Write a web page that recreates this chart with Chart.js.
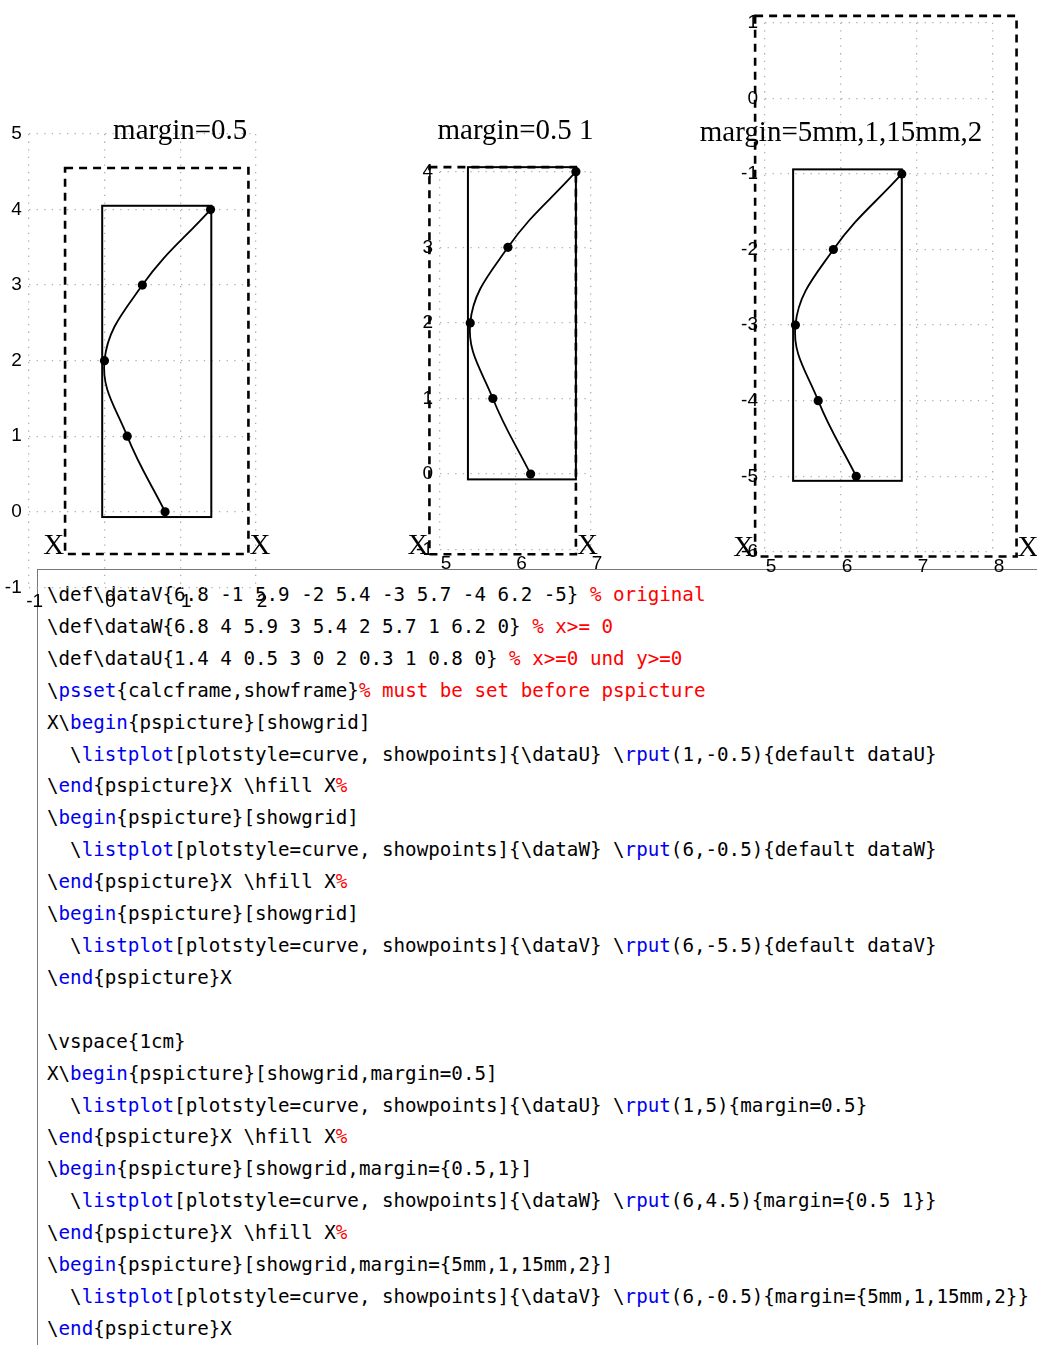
<!DOCTYPE html>
<html>
<head>
<meta charset="utf-8">
<script src="https://cdn.jsdelivr.net/npm/chart.js@4"></script>
<style>
  html, body { margin: 0; padding: 0; background: #fff; }
  #page { position: relative; width: 1037px; height: 1345px; overflow: hidden; }
  .plot { position: absolute; z-index: 2; }
  #listing {
    position: absolute; left: 37px; top: 569px; width: 1000px; height: 776px;
    border-left: 1.5px solid #777; border-top: 1.5px solid #777;
    z-index: 1;
  }
  #listing pre {
    margin: 0; position: absolute; left: 9px; top: 9px;
    font-family: 'DejaVu Sans Mono', monospace; font-size: 19.2px; line-height: 31.9px; color: #000;
  }
  .k { color: #0000ee; }
  .c { color: #ff0000; }
</style>
</head>
<body>
<div id="page">
  <div class="plot" style="left:0px;top:110px;"><canvas id="plotU" width="280" height="510"></canvas></div>
  <div class="plot" style="left:400px;top:110px;"><canvas id="plotW" width="220" height="470"></canvas></div>
  <div class="plot" style="left:680px;top:0px;"><canvas id="plotV" width="357" height="580"></canvas></div>
  <div id="listing"><pre>\def\dataV{6.8 -1 5.9 -2 5.4 -3 5.7 -4 6.2 -5} <span class="c">% original</span>
\def\dataW{6.8 4 5.9 3 5.4 2 5.7 1 6.2 0} <span class="c">% x&gt;= 0</span>
\def\dataU{1.4 4 0.5 3 0 2 0.3 1 0.8 0} <span class="c">% x&gt;=0 und y&gt;=0</span>
\<span class="k">psset</span>{calcframe,showframe}<span class="c">% must be set before pspicture</span>
X\<span class="k">begin</span>{pspicture}[showgrid]
  \<span class="k">listplot</span>[plotstyle=curve, showpoints]{\dataU} \<span class="k">rput</span>(1,-0.5){default dataU}
\<span class="k">end</span>{pspicture}X \hfill X<span class="c">%</span>
\<span class="k">begin</span>{pspicture}[showgrid]
  \<span class="k">listplot</span>[plotstyle=curve, showpoints]{\dataW} \<span class="k">rput</span>(6,-0.5){default dataW}
\<span class="k">end</span>{pspicture}X \hfill X<span class="c">%</span>
\<span class="k">begin</span>{pspicture}[showgrid]
  \<span class="k">listplot</span>[plotstyle=curve, showpoints]{\dataV} \<span class="k">rput</span>(6,-5.5){default dataV}
\<span class="k">end</span>{pspicture}X

\vspace{1cm}
X\<span class="k">begin</span>{pspicture}[showgrid,margin=0.5]
  \<span class="k">listplot</span>[plotstyle=curve, showpoints]{\dataU} \<span class="k">rput</span>(1,5){margin=0.5}
\<span class="k">end</span>{pspicture}X \hfill X<span class="c">%</span>
\<span class="k">begin</span>{pspicture}[showgrid,margin={0.5,1}]
  \<span class="k">listplot</span>[plotstyle=curve, showpoints]{\dataW} \<span class="k">rput</span>(6,4.5){margin={0.5 1}}
\<span class="k">end</span>{pspicture}X \hfill X<span class="c">%</span>
\<span class="k">begin</span>{pspicture}[showgrid,margin={5mm,1,15mm,2}]
  \<span class="k">listplot</span>[plotstyle=curve, showpoints]{\dataV} \<span class="k">rput</span>(6,-0.5){margin={5mm,1,15mm,2}}
\<span class="k">end</span>{pspicture}X</pre></div>
</div>

<script>
// listplot data (x, y pairs from \dataU, \dataW, \dataV)
const dataUx = [1.4, 0.5, 0, 0.3, 0.8];
const dataUy = [4, 3, 2, 1, 0];
const dataWx = [6.8, 5.9, 5.4, 5.7, 6.2];
const dataWy = [4, 3, 2, 1, 0];
const dataVx = [6.8, 5.9, 5.4, 5.7, 6.2];
const dataVy = [-1, -2, -3, -4, -5];

// grid ranges [xmin, xmax, ymin, ymax]
const gridU = [-1, 2, -1, 5];
const gridW = [5, 7, -1, 4];
const gridV = [5, 8, -6, 1];

// frames in user units [x1, y1, x2, y2]: calcframe (solid) and margin frame (dashed)
const calcU = [-0.03, -0.07, 1.41, 4.05];
const marginU = [-0.52, -0.56, 1.9, 4.55];
const calcW = [5.37, -0.07, 6.8, 4.06];
const marginW = [4.86, -1.06, 6.8, 4.06];
const calcV = [5.37, -5.06, 6.8, -0.94];
const marginV = [4.87, -6.06, 8.31, 1.09];

// \rput labels
const titles = ['margin=0.5', 'margin=0.5 1', 'margin=5mm,1,15mm,2'];
const titleAt = [[1, 5], [6, 4.5], [6, -0.5]];

const pstPicture = {
  id: 'pstPicture',
  beforeDatasetsDraw(chart, args, opts) {
    const { ctx, scales: { x, y } } = chart;
    const box = (f) => {
      const l = x.getPixelForValue(f[0]), r = x.getPixelForValue(f[2]);
      const t = y.getPixelForValue(f[3]), b = y.getPixelForValue(f[1]);
      return [l, t, r - l, b - t];
    };
    ctx.save();
    ctx.strokeStyle = '#000';
    ctx.lineWidth = 2.6;
    ctx.setLineDash([8, 6]);
    ctx.strokeRect(...box(opts.margin));
    ctx.setLineDash([]);
    ctx.lineWidth = 2;
    ctx.strokeRect(...box(opts.calc));
    ctx.restore();
  },
  afterDatasetsDraw(chart, args, opts) {
    const { ctx, scales: { x, y } } = chart;
    ctx.save();
    ctx.fillStyle = '#000';
    ctx.font = '29px "Liberation Serif"';
    ctx.textBaseline = 'alphabetic';
    ctx.textAlign = 'center';
    ctx.fillText(opts.title, x.getPixelForValue(opts.at[0]), y.getPixelForValue(opts.at[1]) + 5);
    // the X markers sit on the baseline of the picture box
    const m = opts.margin;
    const base = y.getPixelForValue(m[1]);
    ctx.textAlign = 'right';
    ctx.fillText('X', x.getPixelForValue(m[0]) - 1, base);
    ctx.textAlign = 'left';
    ctx.fillText('X', x.getPixelForValue(m[2]) + 1, base);
    ctx.restore();
  }
};

const makePlot = (id, xs, ys, grid, calc, margin, title, at, yAxisW, xAxisH, padTop, padRight) => {
  const tickFont = { family: 'Liberation Sans', size: 19 };
  const gridStyle = { color: '#b0b0b0', lineWidth: 1.3, drawTicks: false };
  return new Chart(document.getElementById(id), {
    type: 'scatter',
    data: {
      datasets: [{
        data: xs.map((v, i) => ({ x: v, y: ys[i] })),
        showLine: true,
        tension: 0.4,
        borderColor: '#000',
        borderWidth: 1.8,
        pointRadius: 4.6,
        pointBackgroundColor: '#000',
        pointBorderColor: '#000',
        pointBorderWidth: 0,
        clip: false
      }]
    },
    options: {
      responsive: false,
      animation: false,
      events: [],
      layout: { padding: { top: padTop, right: padRight, left: 0, bottom: 0 } },
      plugins: {
        legend: { display: false },
        tooltip: { enabled: false },
        pstPicture: { calc, margin, title, at }
      },
      scales: {
        x: {
          type: 'linear', min: grid[0], max: grid[1],
          ticks: { stepSize: 1, padding: 3, labelOffset: 6, color: '#000', font: tickFont, maxRotation: 0, autoSkip: false },
          grid: gridStyle,
          border: { display: false, dash: [1.3, 6.3] },
          afterFit: (s) => { s.height = xAxisH; }
        },
        y: {
          type: 'linear', min: grid[2], max: grid[3],
          ticks: { stepSize: 1, padding: 7, color: '#000', font: tickFont, autoSkip: false },
          grid: gridStyle,
          border: { display: false, dash: [1.3, 6.3] },
          afterFit: (s) => { s.width = yAxisW; }
        }
      }
    },
    plugins: [pstPicture]
  });
};

makePlot('plotU', dataUx, dataUy, gridU, calcU, marginU, titles[0], titleAt[0], 28.7, 32.7, 24, 24);
makePlot('plotW', dataWx, dataWy, gridW, calcW, marginW, titles[1], titleAt[1], 40, 30.3, 61.7, 29);
makePlot('plotV', dataVx, dataVy, gridV, calcV, marginV, titles[2], titleAt[2], 85, 28.1, 22.7, 44);
</script>
</body>
</html>
